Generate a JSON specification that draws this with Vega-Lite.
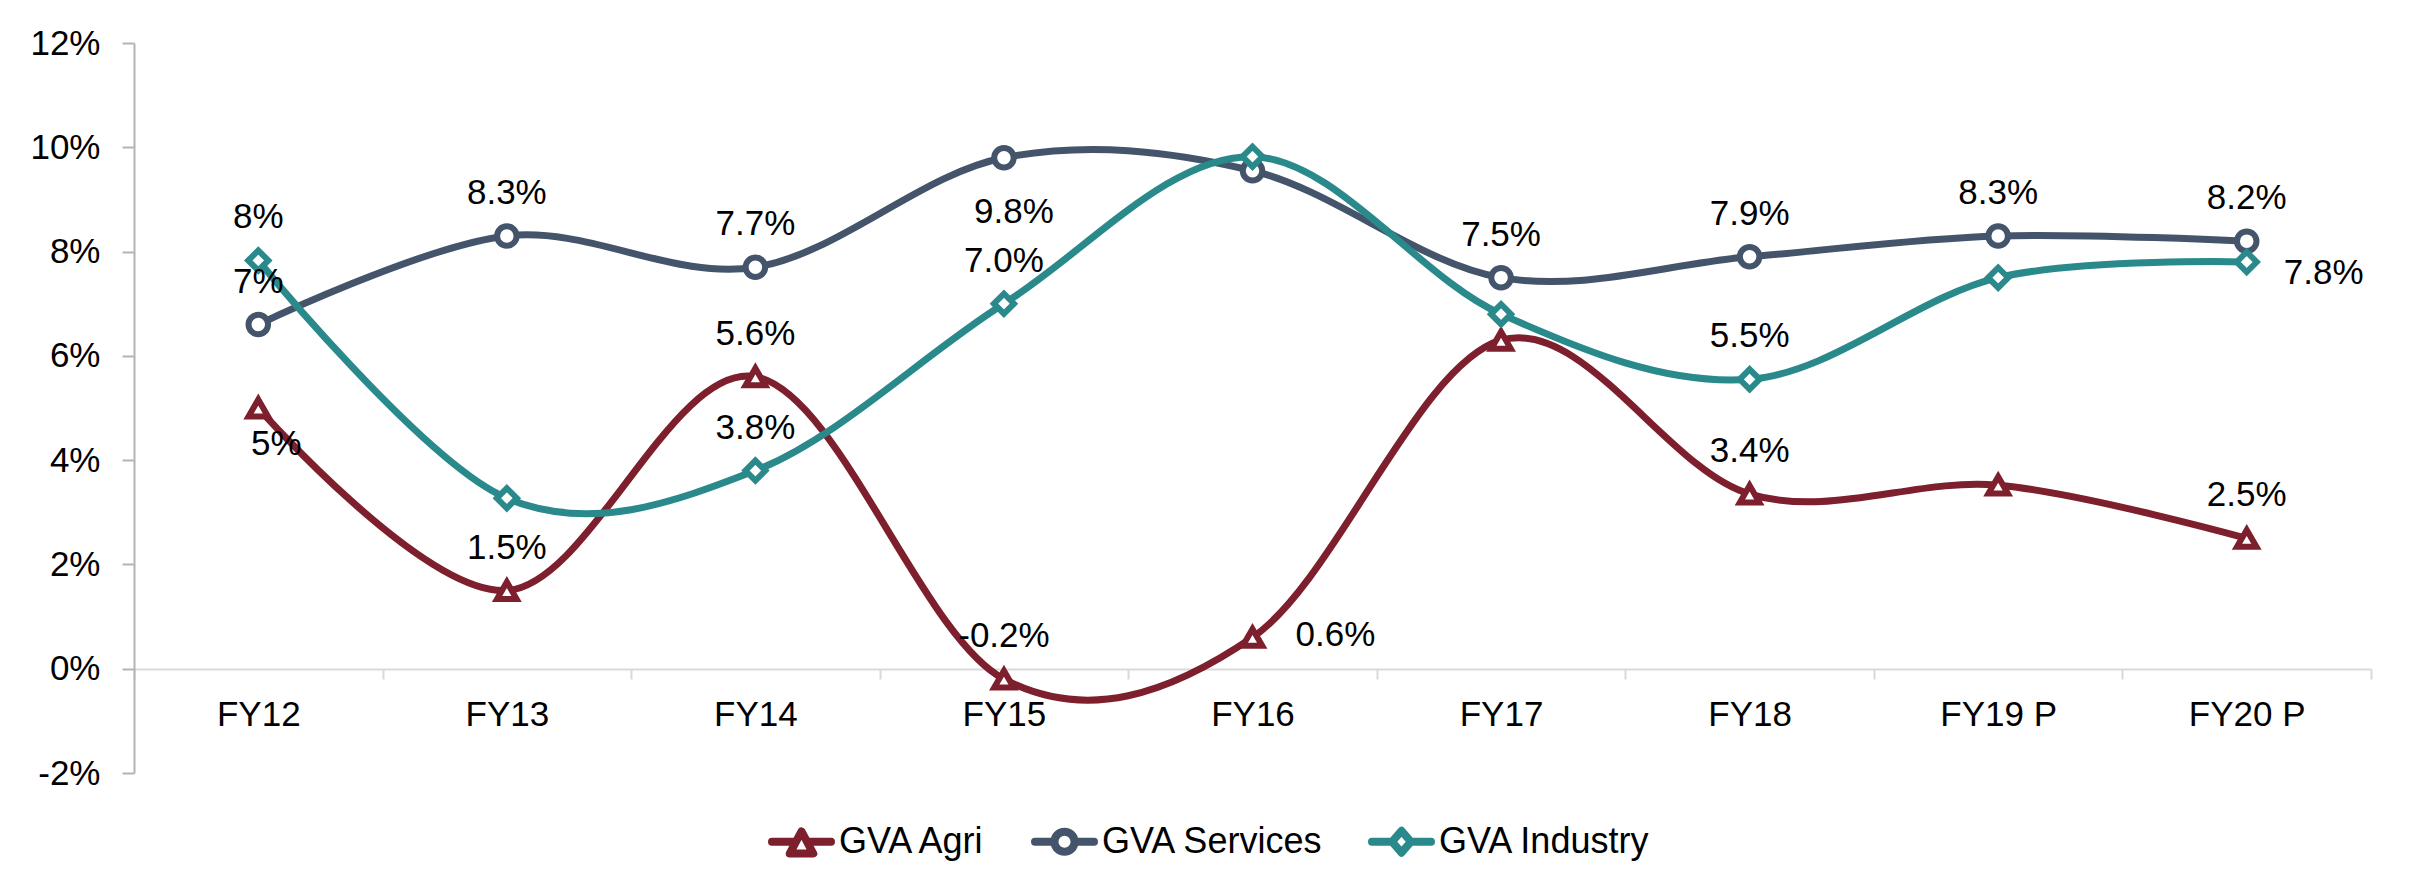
{
  "$schema": "https://vega.github.io/schema/vega-lite/v6.json",
  "width": 2237,
  "height": 730,
  "autosize": {"type": "none"},
  "padding": {"left": 134, "top": 43, "right": 39, "bottom": 105},
  "background": "white",
  "config": {
    "view": {"stroke": null},
    "font": "Liberation Sans",
    "text": {"font": "Liberation Sans", "fontSize": 35, "color": "black"}
  },
  "data": {
    "values": [
      {"year": "FY12", "series": "GVA Agri", "value": 5.0, "label": "5%"},
      {"year": "FY13", "series": "GVA Agri", "value": 1.5, "label": "1.5%"},
      {"year": "FY14", "series": "GVA Agri", "value": 5.6, "label": "5.6%"},
      {"year": "FY15", "series": "GVA Agri", "value": -0.2, "label": "-0.2%"},
      {"year": "FY16", "series": "GVA Agri", "value": 0.6, "label": "0.6%"},
      {"year": "FY17", "series": "GVA Agri", "value": 6.3, "label": null},
      {"year": "FY18", "series": "GVA Agri", "value": 3.35, "label": "3.4%"},
      {"year": "FY19 P", "series": "GVA Agri", "value": 3.52, "label": null},
      {"year": "FY20 P", "series": "GVA Agri", "value": 2.5, "label": "2.5%"},
      {"year": "FY12", "series": "GVA Services", "value": 6.6, "label": "7%"},
      {"year": "FY13", "series": "GVA Services", "value": 8.3, "label": "8.3%"},
      {"year": "FY14", "series": "GVA Services", "value": 7.7, "label": "7.7%"},
      {"year": "FY15", "series": "GVA Services", "value": 9.8, "label": "9.8%"},
      {"year": "FY16", "series": "GVA Services", "value": 9.55, "label": null},
      {"year": "FY17", "series": "GVA Services", "value": 7.5, "label": "7.5%"},
      {"year": "FY18", "series": "GVA Services", "value": 7.9, "label": "7.9%"},
      {"year": "FY19 P", "series": "GVA Services", "value": 8.3, "label": "8.3%"},
      {"year": "FY20 P", "series": "GVA Services", "value": 8.2, "label": "8.2%"},
      {"year": "FY12", "series": "GVA Industry", "value": 7.83, "label": "8%"},
      {"year": "FY13", "series": "GVA Industry", "value": 3.27, "label": null},
      {"year": "FY14", "series": "GVA Industry", "value": 3.8, "label": "3.8%"},
      {"year": "FY15", "series": "GVA Industry", "value": 7.0, "label": "7.0%"},
      {"year": "FY16", "series": "GVA Industry", "value": 9.82, "label": null},
      {"year": "FY17", "series": "GVA Industry", "value": 6.8, "label": null},
      {"year": "FY18", "series": "GVA Industry", "value": 5.55, "label": "5.5%"},
      {"year": "FY19 P", "series": "GVA Industry", "value": 7.5, "label": null},
      {"year": "FY20 P", "series": "GVA Industry", "value": 7.8, "label": "7.8%"}
    ]
  },
  "encoding": {
    "x": {
      "field": "year",
      "type": "nominal",
      "sort": ["FY12", "FY13", "FY14", "FY15", "FY16", "FY17", "FY18", "FY19 P", "FY20 P"],
      "bandPosition": 0.5,
      "scale": {"type": "band", "paddingInner": 0, "paddingOuter": 0},
      "axis": {
        "title": null,
        "orient": "bottom",
        "offset": -104,
        "labelAngle": 0,
        "labelFontSize": 35,
        "labelColor": "black",
        "labelFont": "Liberation Sans",
        "labelPadding": 18,
        "domainColor": "#d9d9d9",
        "domainWidth": 2,
        "tickColor": "#d9d9d9",
        "tickWidth": 2,
        "tickSize": 10,
        "tickBand": "extent",
        "grid": false
      }
    },
    "y": {
      "field": "value",
      "type": "quantitative",
      "scale": {"domain": [-2, 12], "nice": false, "zero": false},
      "axis": {
        "title": null,
        "values": [-2, 0, 2, 4, 6, 8, 10, 12],
        "labelExpr": "datum.value + '%'",
        "labelFontSize": 35,
        "labelColor": "black",
        "labelFont": "Liberation Sans",
        "labelPadding": 22,
        "domainColor": "#b4b4b4",
        "domainWidth": 2,
        "tickColor": "#b4b4b4",
        "tickWidth": 2,
        "tickSize": 12,
        "grid": false
      }
    },
    "color": {
      "field": "series",
      "type": "nominal",
      "scale": {
        "domain": ["GVA Agri", "GVA Services", "GVA Industry"],
        "range": ["#7d1f2c", "#44546a", "#2a898b"]
      },
      "legend": {
        "title": null,
        "orient": "none",
        "legendX": 634,
        "legendY": 765,
        "direction": "horizontal",
        "labelFontSize": 36,
        "labelLimit": 500,
        "labelColor": "black",
        "labelFont": "Liberation Sans",
        "symbolType": "M-1,0H-0.34M0.34,0H1M0.34,0A0.34,0.34 0 1,1 -0.34,0A0.34,0.34 0 1,1 0.34,0Z",
        "symbolSize": 3481,
        "symbolStrokeWidth": 8,
        "symbolFillColor": "white",
        "labelOffset": 4,
        "columnPadding": 44,
        "encode": {
          "symbols": {
            "update": {
              "shape": {"signal": "datum.value === 'GVA Agri' ? 'M-1,0H-0.19M0.19,0H1M0,-0.35L0.4,0.4L-0.4,0.4Z' : datum.value === 'GVA Services' ? 'M-1,0H-0.34M0.34,0H1M0.34,0A0.34,0.34 0 1,1 -0.34,0A0.34,0.34 0 1,1 0.34,0Z' : 'M-1,0H-0.32M0.32,0H1M0,-0.37L0.32,0L0,0.37L-0.32,0Z'"},
              "fill": {"value": "white"},
              "strokeWidth": {"value": 8},
              "strokeCap": {"value": "round"},
              "strokeJoin": {"value": "round"}
            }
          }
        }
      }
    }
  },
  "layer": [
    {
      "mark": {"type": "line", "interpolate": "cardinal", "strokeWidth": 7}
    },
    {
      "transform": [{"filter": "datum.series === 'GVA Agri'"}],
      "mark": {"type": "point", "shape": "triangle-up", "filled": false, "fill": "white", "strokeWidth": 6, "size": 380, "opacity": 1}
    },
    {
      "transform": [{"filter": "datum.series === 'GVA Services'"}],
      "mark": {"type": "point", "shape": "circle", "filled": false, "fill": "white", "strokeWidth": 6, "size": 380, "opacity": 1}
    },
    {
      "transform": [{"filter": "datum.series === 'GVA Industry'"}],
      "mark": {"type": "point", "shape": "diamond", "filled": false, "fill": "white", "strokeWidth": 6, "size": 400, "opacity": 1}
    },
    {
      "transform": [
        {"filter": "datum.label != null && !((datum.series === 'GVA Agri' && (datum.year === 'FY12' || datum.year === 'FY16')) || (datum.series === 'GVA Services' && datum.year === 'FY15') || (datum.series === 'GVA Industry' && datum.year === 'FY20 P'))"}
      ],
      "mark": {"type": "text", "dy": -43, "align": "center", "baseline": "middle", "fontSize": 35, "color": "black"},
      "encoding": {"text": {"field": "label"}, "color": {"value": "black"}}
    },
    {
      "transform": [{"filter": "datum.series === 'GVA Agri' && datum.year === 'FY12'"}],
      "mark": {"type": "text", "dx": 18, "dy": 36, "align": "center", "baseline": "middle", "fontSize": 35},
      "encoding": {"text": {"field": "label"}, "color": {"value": "black"}}
    },
    {
      "transform": [{"filter": "datum.series === 'GVA Services' && datum.year === 'FY15'"}],
      "mark": {"type": "text", "dx": 10, "dy": 54, "align": "center", "baseline": "middle", "fontSize": 35},
      "encoding": {"text": {"field": "label"}, "color": {"value": "black"}}
    },
    {
      "transform": [{"filter": "datum.series === 'GVA Agri' && datum.year === 'FY16'"}],
      "mark": {"type": "text", "dx": 43, "dy": -2, "align": "left", "baseline": "middle", "fontSize": 35},
      "encoding": {"text": {"field": "label"}, "color": {"value": "black"}}
    },
    {
      "transform": [{"filter": "datum.series === 'GVA Industry' && datum.year === 'FY20 P'"}],
      "mark": {"type": "text", "dx": 37, "dy": 11, "align": "left", "baseline": "middle", "fontSize": 35},
      "encoding": {"text": {"field": "label"}, "color": {"value": "black"}}
    }
  ]
}
